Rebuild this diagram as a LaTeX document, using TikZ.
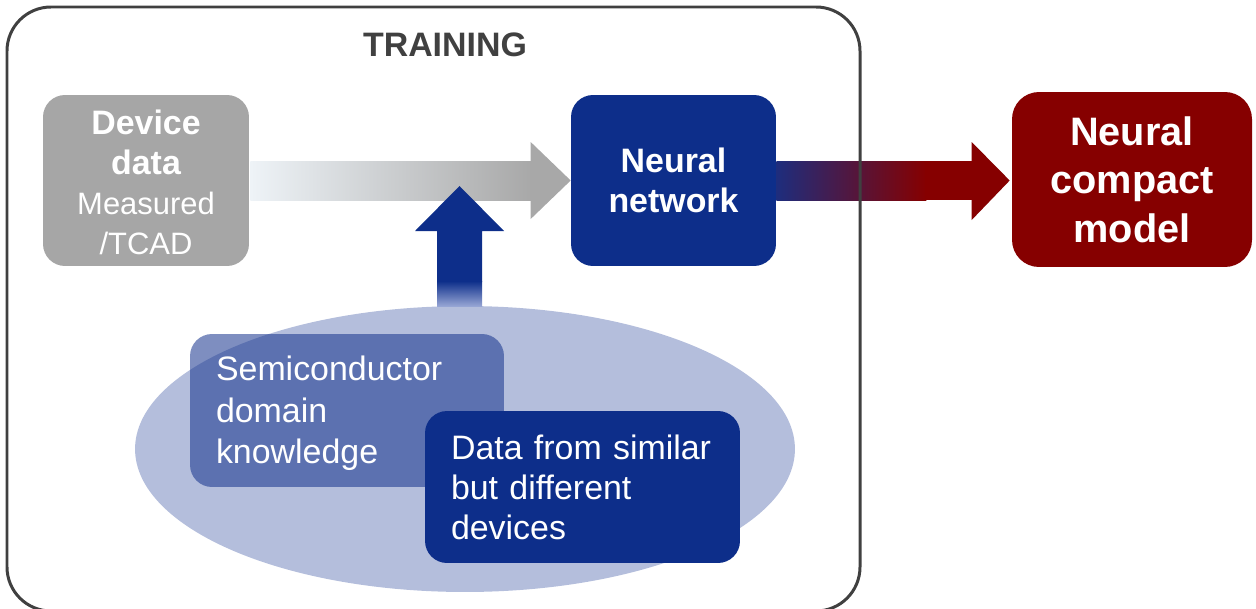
\documentclass[tikz,border=0pt]{standalone}
\usepackage{fontspec}
\setmainfont{Liberation Sans}
\usetikzlibrary{shapes.geometric,calc}

\definecolor{navy}{RGB}{13,46,138}
\definecolor{wine}{RGB}{134,0,0}
\definecolor{boxgray}{RGB}{166,166,166}
\definecolor{framegray}{RGB}{64,64,64}
\definecolor{haze}{RGB}{180,190,220}
\definecolor{semi}{RGB}{20,50,140}
\definecolor{arrowgray}{RGB}{168,168,168}
\definecolor{midgray}{RGB}{196,197,203}
\definecolor{mist}{RGB}{238,243,247}
\definecolor{shaftblue}{RGB}{30,45,125}
\definecolor{fadeblue}{RGB}{150,165,212}

\begin{document}
\begin{tikzpicture}[x=0.02cm,y=-0.02cm,
  block/.style={rounded corners=0.44cm, inner sep=0pt, text=white, align=center},
  bodyfont/.style={font=\fontsize{19.3}{22.7}\selectfont},
  boldfont/.style={font=\fontsize{19.3}{22.7}\selectfont\bfseries},
  textbox/.style={block, align=left, inner xsep=0.52cm, bodyfont},
  frame/.style={draw=framegray, line width=1.7pt, rounded corners=0.88cm}]
\useasboundingbox (0,0) rectangle (1256,608);

% knowledge cloud and its two sources
\node[ellipse, fill=haze, inner sep=0pt, minimum width=13.2cm, minimum height=5.72cm] (ell) at (465,449) {};
\node[textbox, fill=semi, fill opacity=0.55, text opacity=1, text width=5.24cm,
      minimum width=6.28cm, minimum height=3.06cm, font=\fontsize{19.3}{23.5}\selectfont] (sem) at (347,410.5)
  {\rule{0pt}{0.9em}Semiconductor\\domain\\knowledge};
\node[textbox, fill=navy, text width=5.26cm,
      minimum width=6.3cm, minimum height=3.04cm] (dat) at (582.5,487)
  {Data from similar\\but different\\devices};

% main blocks
\node[block, fill=boxgray, minimum width=4.12cm, minimum height=3.42cm, boldfont] (dev) at (146,180.5)
  {\rule{0pt}{0.85em}Device\\data\\{\mdseries\fontsize{17.6}{21}\selectfont Measured}\\{\mdseries\fontsize{17.6}{21}\selectfont /TCAD}};
\node[block, fill=navy, minimum width=4.1cm, minimum height=3.42cm, boldfont] (nn) at (673.5,180.5)
  {Neural\\network};
\node[block, fill=wine, rounded corners=0.54cm, minimum width=4.8cm, minimum height=3.5cm,
      font=\fontsize{22.6}{27.5}\selectfont\bfseries] (ncm) at (1132,179.5)
  {Neural\\compact\\model};

\node[text=framegray, font=\fontsize{19.3}{22.7}\selectfont\bfseries] (title) at (445,45) {TRAINING};

% device data -> neural network
\shade[left color=mist, middle color=midgray, right color=arrowgray]
  ($(dev.east)+(1,-19.5)$) rectangle ($(nn.west)+(-39,19.5)$);
\fill[arrowgray] ($(nn.west)+(-40,-38.5)$) -- (nn.west) -- ($(nn.west)+(-40,38.5)$) -- cycle;

% knowledge -> training
\coordinate (up) at (459.5,186);
\coordinate (upbase) at (459.5,307);
\fill[navy] (up) -- ($(up)+(44.5,45)$) -- ($(up)+(22.5,45)$) -- ($(up)+(22.5,96)$)
  -- ($(up)+(-22.5,96)$) -- ($(up)+(-22.5,45)$) -- ($(up)+(-44.5,45)$) -- cycle;
\shade[top color=navy, bottom color=fadeblue]
  ($(up)+(-22.5,95)$) rectangle ($(upbase)+(22.5,-1)$);

% neural network -> compact model
\shade[left color=shaftblue, right color=wine]
  ($(nn.east)+(0,-19.5)$) rectangle ($(nn.east)+(150,19.5)$);
\fill[wine] ($(nn.east)+(149,-19.5)$) rectangle ($(nn.east)+(198,19.5)$);
\fill[wine] ($(ncm.west)+(-40,-37.5)$) -- ($(ncm.west)+(-2,1)$) -- ($(ncm.west)+(-40,40.5)$) -- cycle;

% training frame
\draw[frame] (7,7) rectangle (860,611);
\end{tikzpicture}
\end{document}
